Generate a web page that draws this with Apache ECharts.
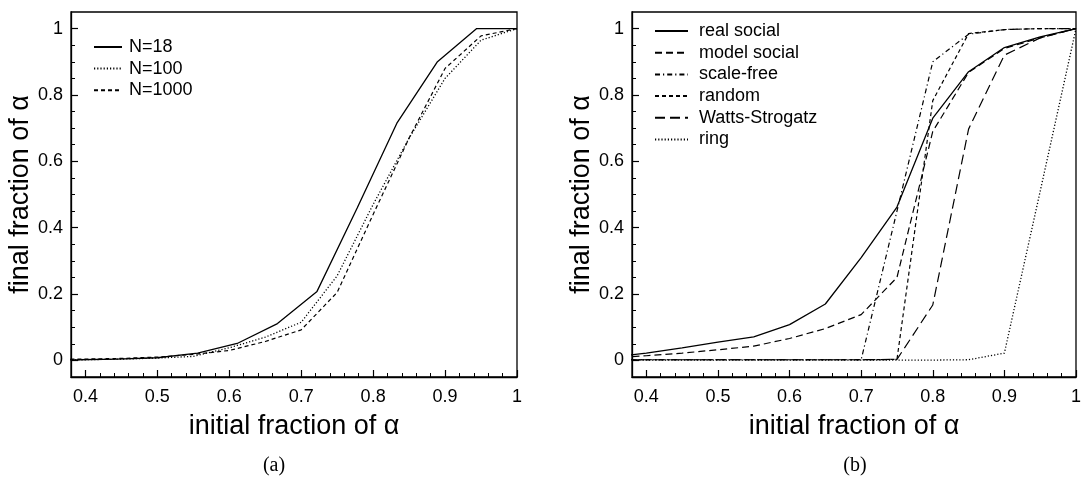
<!DOCTYPE html>
<html>
<head>
<meta charset="utf-8">
<script src="https://cdn.jsdelivr.net/npm/echarts@6/dist/echarts.min.js"></script>
<style>
  html, body { margin: 0; padding: 0; background: #fff; }
  #chart { width: 1084px; height: 479px; }
</style>
</head>
<body>
<div id="chart"></div>
<script>
var myChart = echarts.init(document.getElementById('chart'));

// ---- panel (a) ----
var xN18 = [0.333, 0.389, 0.444, 0.5, 0.556, 0.611, 0.667, 0.722, 0.778, 0.833, 0.889, 0.944, 1.0];
var yN18 = [0.001, 0.002, 0.004, 0.008, 0.022, 0.051, 0.111, 0.208, 0.46, 0.715, 0.899, 1.0, 1.0];
var xN = [0.35, 0.4, 0.45, 0.5, 0.55, 0.6, 0.65, 0.7, 0.75, 0.8, 0.85, 0.9, 0.95, 1.0];
var yN100 = [0.001, 0.002, 0.004, 0.007, 0.012, 0.038, 0.07, 0.115, 0.255, 0.47, 0.67, 0.85, 0.965, 1.0];
var yN1000 = [0.003, 0.004, 0.006, 0.01, 0.018, 0.03, 0.057, 0.092, 0.205, 0.44, 0.67, 0.88, 0.978, 1.0];

// ---- panel (b) ----
var xNet = [0.35, 0.4, 0.45, 0.5, 0.55, 0.6, 0.65, 0.7, 0.75, 0.8, 0.85, 0.9, 0.95, 1.0];
var yReal = [0.01, 0.022, 0.038, 0.055, 0.071, 0.108, 0.17, 0.31, 0.462, 0.73, 0.87, 0.943, 0.975, 1.0];
var yModel = [0.008, 0.014, 0.022, 0.032, 0.043, 0.066, 0.096, 0.138, 0.25, 0.69, 0.868, 0.94, 0.972, 1.0];
var yScaleFree = [0.002, 0.002, 0.002, 0.002, 0.002, 0.002, 0.002, 0.002, 0.45, 0.9, 0.983, 0.997, 1.0, 1.0];
var yRandom = [0.002, 0.002, 0.002, 0.002, 0.002, 0.002, 0.002, 0.002, 0.003, 0.783, 0.985, 0.997, 1.0, 1.0];
var yWS = [0.002, 0.002, 0.002, 0.002, 0.002, 0.002, 0.002, 0.002, 0.003, 0.167, 0.697, 0.92, 0.972, 1.0];
var yRing = [0.001, 0.001, 0.001, 0.001, 0.001, 0.001, 0.001, 0.001, 0.001, 0.001, 0.002, 0.022, 0.51, 1.0];

// ticks
var xMajor = [0.4, 0.5, 0.6, 0.7, 0.8, 0.9, 1.0];
var xMinor = [0.38, 0.42, 0.44, 0.46, 0.48, 0.52, 0.54, 0.56, 0.58, 0.62, 0.64, 0.66, 0.68,
              0.72, 0.74, 0.76, 0.78, 0.82, 0.84, 0.86, 0.88, 0.92, 0.94, 0.96, 0.98];
var yMajor = [0, 0.2, 0.4, 0.6, 0.8, 1.0];
var yMinor = [0.05, 0.1, 0.15, 0.25, 0.3, 0.35, 0.45, 0.5, 0.55, 0.65, 0.7, 0.75, 0.85, 0.9, 0.95];

var font = 'Liberation Sans';

function pairs(xs, ys) {
	return xs.map(function (x, i) { return [x, ys[i]]; });
}

function xAxes(grid) {
	return [{
		type: 'value', gridIndex: grid, position: 'bottom',
		min: 0.38, max: 1.0,
		name: 'initial fraction of α', nameLocation: 'middle', nameGap: 36,
		nameTextStyle: { fontFamily: font, fontSize: 27, color: '#000' },
		axisLine: { show: true, onZero: false, lineStyle: { color: '#000', width: 1.3 } },
		axisTick: { show: true, inside: true, length: 7, customValues: xMajor, lineStyle: { color: '#000', width: 1.2 } },
		axisLabel: { customValues: xMajor, margin: 11, fontFamily: font, fontSize: 18, color: '#000' },
		splitLine: { show: false }
	}, {
		type: 'value', gridIndex: grid, position: 'bottom',
		min: 0.38, max: 1.0,
		axisLine: { show: false, onZero: false },
		axisTick: { show: true, inside: true, length: 4, customValues: xMinor, lineStyle: { color: '#000', width: 1 } },
		axisLabel: { show: false },
		splitLine: { show: false }
	}];
}

function yAxes(grid) {
	return [{
		type: 'value', gridIndex: grid, position: 'left',
		min: -0.05, max: 1.05,
		name: 'final fraction of α', nameLocation: 'middle', nameGap: 22,
		nameTextStyle: { fontFamily: font, fontSize: 27, color: '#000' },
		axisLine: { show: true, onZero: false, lineStyle: { color: '#000', width: 1.3 } },
		axisTick: { show: true, inside: true, length: 7, customValues: yMajor, lineStyle: { color: '#000', width: 1.2 } },
		axisLabel: { customValues: yMajor, margin: 8, fontFamily: font, fontSize: 18, color: '#000' },
		splitLine: { show: false }
	}, {
		type: 'value', gridIndex: grid, position: 'left',
		min: -0.05, max: 1.05,
		axisLine: { show: false, onZero: false },
		axisTick: { show: true, inside: true, length: 4, customValues: yMinor, lineStyle: { color: '#000', width: 1 } },
		axisLabel: { show: false },
		splitLine: { show: false }
	}];
}

function line(name, data, xi, yi, type, width) {
	return {
		name: name, type: 'line', xAxisIndex: xi, yAxisIndex: yi,
		data: data, symbol: 'none', clip: true, animation: false,
		itemStyle: { color: '#000' },
		lineStyle: { color: '#000', width: width || 1.2, type: type }
	};
}

var option = {
	backgroundColor: '#fff',
	animation: false,
	grid: [
		{ left: 71, top: 12, width: 446, height: 365, show: true, borderColor: '#000', borderWidth: 1.3, backgroundColor: 'transparent' },
		{ left: 632, top: 12, width: 445, height: 365, show: true, borderColor: '#000', borderWidth: 1.3, backgroundColor: 'transparent' }
	],
	xAxis: xAxes(0).concat(xAxes(1)),
	yAxis: yAxes(0).concat(yAxes(1)),
	legend: [{
		data: ['N=18', 'N=100', 'N=1000'],
		orient: 'vertical', left: 93, top: 38, padding: 0,
		itemWidth: 28, itemHeight: 14, itemGap: 3.6,
		itemStyle: { opacity: 0 },
		textStyle: { fontFamily: font, fontSize: 18, color: '#000', padding: [0, 0, 0, 2] }
	}, {
		data: ['real social', 'model social', 'scale-free', 'random', 'Watts-Strogatz', 'ring'],
		orient: 'vertical', left: 654, top: 22, padding: 0,
		itemWidth: 33, itemHeight: 14, itemGap: 3.7,
		itemStyle: { opacity: 0 },
		textStyle: { fontFamily: font, fontSize: 18, color: '#000', padding: [0, 0, 0, 6] }
	}],
	graphic: [
		{ type: 'text', x: 274, y: 466, style: { text: '(a)', font: '20px "Liberation Serif"', fill: '#000', textAlign: 'center', textVerticalAlign: 'middle' } },
		{ type: 'text', x: 855, y: 466, style: { text: '(b)', font: '20px "Liberation Serif"', fill: '#000', textAlign: 'center', textVerticalAlign: 'middle' } }
	],
	series: [
		line('N=18', pairs(xN18, yN18), 0, 0, 'solid', 1.3),
		line('N=100', pairs(xN, yN100), 0, 0, [1.2, 2], 1.3),
		line('N=1000', pairs(xN, yN1000), 0, 0, [4, 3], 1.2),
		line('real social', pairs(xNet, yReal), 2, 2, 'solid', 1.3),
		line('model social', pairs(xNet, yModel), 2, 2, [7, 4], 1.2),
		line('scale-free', pairs(xNet, yScaleFree), 2, 2, [5, 3, 1.2, 3], 1.2),
		line('random', pairs(xNet, yRandom), 2, 2, [4, 3], 1.2),
		line('Watts-Strogatz', pairs(xNet, yWS), 2, 2, [10, 5], 1.2),
		line('ring', pairs(xNet, yRing), 2, 2, [1.2, 2], 1.3)
	]
};

myChart.setOption(option);
</script>
</body>
</html>
